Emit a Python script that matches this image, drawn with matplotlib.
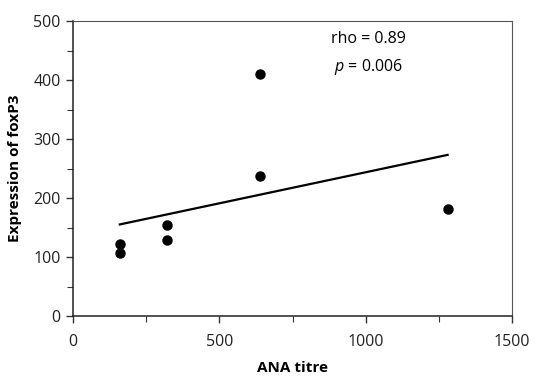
import matplotlib
matplotlib.use("Agg")
import matplotlib.pyplot as plt
import numpy as np
from matplotlib.ticker import MultipleLocator

plt.rcParams['font.family'] = ['Open Sans', 'DejaVu Sans']
plt.rcParams['mathtext.fontset'] = 'custom'
plt.rcParams['mathtext.it'] = 'Open Sans:italic'
plt.rcParams['mathtext.rm'] = 'Open Sans'

ana_titre = [160, 160, 320, 320, 640, 640, 1280]
foxp3 = [122, 107, 154, 128, 410, 237, 181]
x_ticks = [0, 500, 1000, 1500]
y_ticks = [0, 100, 200, 300, 400, 500]

fig = plt.figure(figsize=(5.49, 3.80), dpi=100)
ax = fig.add_axes([73/549, 1-316/380, (512-73)/549, (316-21)/380])

ax.plot(ana_titre, foxp3, 'o', color='black', markersize=6.5, zorder=3)
coef = np.polyfit(ana_titre, foxp3, 1)
xl = np.array([min(ana_titre), max(ana_titre)])
ax.plot(xl, np.polyval(coef, xl), color='black', lw=1.6)

ax.set_xlim(0, 1500)
ax.set_ylim(0, 500)
ax.set_xticks(x_ticks)
ax.set_yticks(y_ticks)
ax.xaxis.set_minor_locator(MultipleLocator(250))
ax.yaxis.set_minor_locator(MultipleLocator(50))
ax.tick_params(which='both', direction='out', labelsize=11.5, color='#333333', labelcolor='#222222')
ax.tick_params(axis='x', which='major', length=5, width=1, pad=8)
ax.tick_params(axis='y', which='major', length=5, width=1, pad=4)
ax.tick_params(which='minor', length=4, width=0.8)
for s in ['left', 'bottom']:
    ax.spines[s].set_linewidth(1.1)
    ax.spines[s].set_color('#222222')
for s in ['top', 'right']:
    ax.spines[s].set_linewidth(0.8)
    ax.spines[s].set_color('#555555')

ax.set_xlabel('ANA titre', fontsize=11, fontweight='bold', labelpad=8)
ax.set_ylabel('Expression of foxP3', fontsize=11, fontweight='bold', labelpad=8)

ax.text(1010, 469, 'rho = 0.89', ha='center', va='center', fontsize=11.5)
ax.text(1010, 422, r'$\it{p}$ = 0.006', ha='center', va='center', fontsize=11.5)

fig.savefig('out.png', dpi=100)
